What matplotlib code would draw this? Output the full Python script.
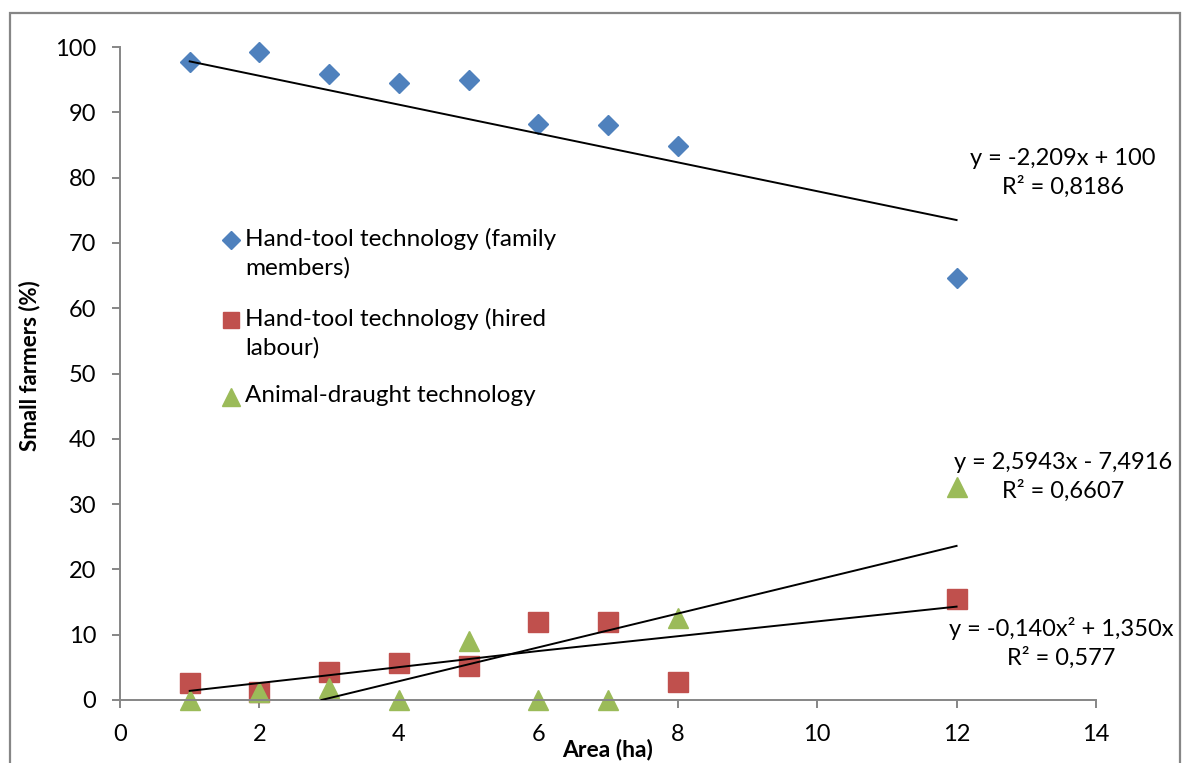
import matplotlib
matplotlib.use("Agg")
import matplotlib.pyplot as plt
from matplotlib.patches import Rectangle

plt.rcParams['font.family'] = ['Lato', 'DejaVu Sans']

area = [1, 2, 3, 4, 5, 6, 7, 8, 12]
family = [97.7, 99.2, 95.9, 94.5, 94.9, 88.2, 88.1, 84.8, 64.6]
hired = [2.6, 1.3, 4.3, 5.7, 5.2, 11.9, 12.0, 2.8, 15.5]
animal = [0, 1.3, 1.9, 0, 9.1, 0, 0, 12.6, 32.6]

# trend lines as drawn in the original
family_trend_x = [1, 12]
family_trend_y = [97.8, 73.5]
animal_trend_x = [2.89, 12]
animal_trend_y = [0, 23.6]
hired_trend_x = [1, 3, 6, 12]
hired_trend_y = [1.4, 3.8, 7.5, 14.3]

labels = ['Hand-tool technology (family\nmembers)',
          'Hand-tool technology (hired\nlabour)',
          'Animal-draught technology']

blue = '#4F81BD'
red = '#C0504D'
green = '#9BBB59'
grey = '#868686'

W, H = 1183, 763
fig = plt.figure(figsize=(W / 100, H / 100), dpi=100)
ax = fig.add_axes([120 / W, 1 - 700 / H, 976 / W, 653 / H])

ax.plot(family_trend_x, family_trend_y, color='black', lw=1.4, zorder=3)
ax.plot(animal_trend_x, animal_trend_y, color='black', lw=1.4, zorder=3)
ax.plot(hired_trend_x, hired_trend_y, color='black', lw=1.4, zorder=3)

ax.plot(area, family, ls='none', marker='D', ms=10.2, color=blue, clip_on=False, zorder=2)
ax.plot(area, hired, ls='none', marker='s', ms=14, color=red, clip_on=False, zorder=2)
ax.plot(area, animal, ls='none', marker='^', ms=14.5, color=green, clip_on=False, zorder=2)

ax.set_xlim(0, 14)
ax.set_ylim(0, 100)
ax.set_xticks(range(0, 15, 2))
ax.set_yticks(range(0, 101, 10))
for s in ['top', 'right']:
    ax.spines[s].set_visible(False)
for s in ['left', 'bottom']:
    ax.spines[s].set_color(grey)
    ax.spines[s].set_linewidth(1.4)
ax.tick_params(colors=grey, labelcolor='black', labelsize=17, length=6, width=1.4, pad=11)

# manual legend, marker next to first line of each entry
leg = [(blue, 'D', 10.2, 240), (red, 's', 14, 320), (green, '^', 14.5, 397)]
for (c, m, ms, py), lab in zip(leg, labels):
    ax.plot([(231 - 120) / 976], [(700 - py) / 653], transform=ax.transAxes,
            marker=m, ms=ms * 0.85, color=c, clip_on=False)
    ax.text((245 - 120) / 976, (700 - py) / 653 + 0.018, lab, transform=ax.transAxes,
            fontsize=17.5, va='top', ha='left', linespacing=1.4)

eqs = [('y = -2,209x + 100\nR² = 0,8186', 1063, 173),
       ('y = 2,5943x - 7,4916\nR² = 0,6607', 1063, 477),
       ('y = -0,140x² + 1,350x\nR² = 0,577', 1061, 643)]
for t, px, py in eqs:
    fig.text(px / W, 1 - py / H, t, ha='center', va='center', fontsize=17, linespacing=1.35)

fig.text(30 / W, 1 - 366 / H, 'Small farmers (%)', rotation=90, ha='center', va='center',
         fontsize=16, fontweight='bold')
fig.text(608 / W, 1 - 749 / H, 'Area (ha)', ha='center', va='center',
         fontsize=16.5, fontweight='bold')

fig.add_artist(Rectangle((10 / W, -0.1), 1170 / W, 1.1 - 13 / H, transform=fig.transFigure,
                         fill=False, edgecolor=grey, lw=1.6, clip_on=False))

fig.savefig('out.png', dpi=100)
